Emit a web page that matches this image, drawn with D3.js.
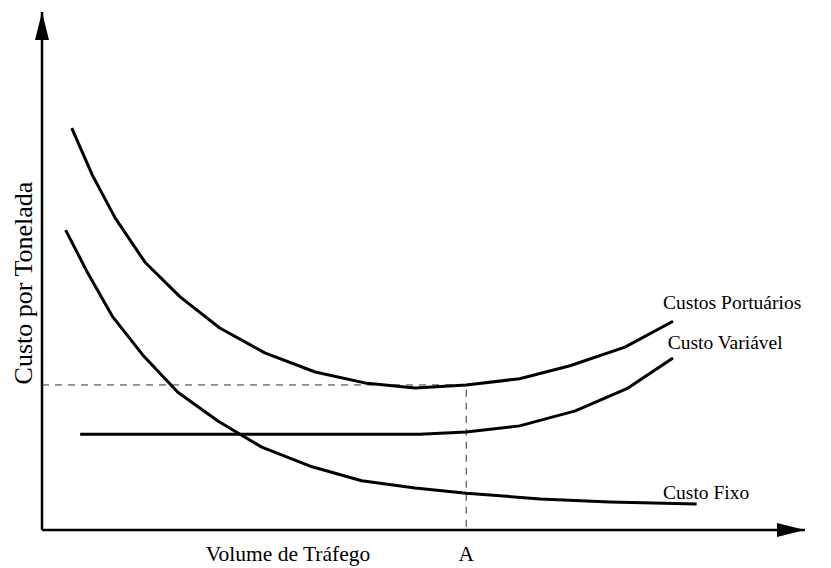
<!DOCTYPE html>
<html>
<head>
<meta charset="utf-8">
<script src="https://cdn.jsdelivr.net/npm/d3@7"></script>
<style>
  body { margin: 0; background: #fff; }
  text { font-family: "Liberation Serif", "Times New Roman", serif; fill: #000; }
</style>
</head>
<body>
<svg id="chart" width="831" height="568"></svg>
<script>
// volume (0-100) vs cost per ton (0-100)
const portVol  = [3.9, 6.6, 9.6, 13.5, 18.1, 23.3, 29.2, 35.8, 42.3, 48.9, 55.6, 62.6, 69.2, 76.4, 82.7];
const portCost = [77.6, 68.5, 60.2, 51.7, 45.0, 39.0, 34.2, 30.5, 28.4, 27.4, 28.0, 29.2, 31.7, 35.3, 40.3];

const varVol  = [5.0, 49.5, 55.6, 62.6, 69.9, 76.8, 82.7];
const varCost = [18.5, 18.5, 18.9, 20.1, 23.0, 27.4, 33.2];

const fixVol  = [3.1, 6.0, 9.2, 13.2, 17.8, 23.1, 28.8, 35.4, 41.9, 48.9, 55.6, 65.3, 74.4, 85.8];
const fixCost = [57.9, 49.6, 41.3, 33.8, 26.6, 21.0, 16.0, 12.2, 9.5, 8.1, 7.1, 6.0, 5.4, 5.0];

const seriesNames = ['Custos Portuários', 'Custo Variável', 'Custo Fixo'];
const labelAt = [[81.4, 42.7], [82.0, 34.9], [81.4, 5.9]]; // label anchor (vol, cost)

const pointA = 55.6;
const costA = 28.0;

const svg = d3.select('#chart');

const x = d3.scaleLinear().domain([0, 100]).range([42, 805]);
const y = d3.scaleLinear().domain([0, 100]).range([530, 12]);

const zip = (a, b) => a.map((v, i) => [v, b[i]]);
const series = [zip(portVol, portCost), zip(varVol, varCost), zip(fixVol, fixCost)];

const line = d3.line()
  .x(d => x(d[0]))
  .y(d => y(d[1]));

// axes with arrow heads
const defs = svg.append('defs');
defs.append('marker')
  .attr('id', 'arrow')
  .attr('viewBox', '0 0 28 14')
  .attr('refX', 28).attr('refY', 7)
  .attr('markerWidth', 28).attr('markerHeight', 14)
  .attr('markerUnits', 'userSpaceOnUse')
  .attr('orient', 'auto')
  .append('path')
  .attr('d', 'M0,0 L28,7 L0,14 Z')
  .attr('fill', '#000');

svg.append('line')
  .attr('x1', x(0)).attr('y1', y(0))
  .attr('x2', x(100)).attr('y2', y(0))
  .attr('stroke', '#000').attr('stroke-width', 2.5)
  .attr('marker-end', 'url(#arrow)');

svg.append('line')
  .attr('x1', x(0)).attr('y1', y(0))
  .attr('x2', x(0)).attr('y2', y(100))
  .attr('stroke', '#000').attr('stroke-width', 2.5)
  .attr('marker-end', 'url(#arrow)');

// dashed guides to point A
svg.append('path')
  .attr('d', `M${x(0)},${y(costA)} H${x(pointA)} V${y(0)}`)
  .attr('fill', 'none')
  .attr('stroke', '#333')
  .attr('stroke-width', 1)
  .attr('stroke-dasharray', '7,6');

svg.selectAll('.curve')
  .data(series)
  .enter()
  .append('path')
  .attr('class', 'curve')
  .attr('d', line)
  .attr('fill', 'none')
  .attr('stroke', '#000')
  .attr('stroke-width', 3)
  .attr('stroke-linejoin', 'round');

svg.selectAll('.lbl')
  .data(seriesNames)
  .enter()
  .append('text')
  .attr('class', 'lbl')
  .attr('x', (d, i) => x(labelAt[i][0]))
  .attr('y', (d, i) => y(labelAt[i][1]))
  .attr('font-size', 19.5)
  .text(d => d);

svg.append('text')
  .attr('x', 288)
  .attr('y', 561)
  .attr('text-anchor', 'middle')
  .attr('font-size', 21.5)
  .text('Volume de Tráfego');

svg.append('text')
  .attr('x', x(pointA))
  .attr('y', 561)
  .attr('text-anchor', 'middle')
  .attr('font-size', 21.5)
  .text('A');

svg.append('text')
  .attr('transform', 'translate(32, 283) rotate(-90)')
  .attr('text-anchor', 'middle')
  .attr('font-size', 26)
  .text('Custo por Tonelada');
</script>
</body>
</html>
